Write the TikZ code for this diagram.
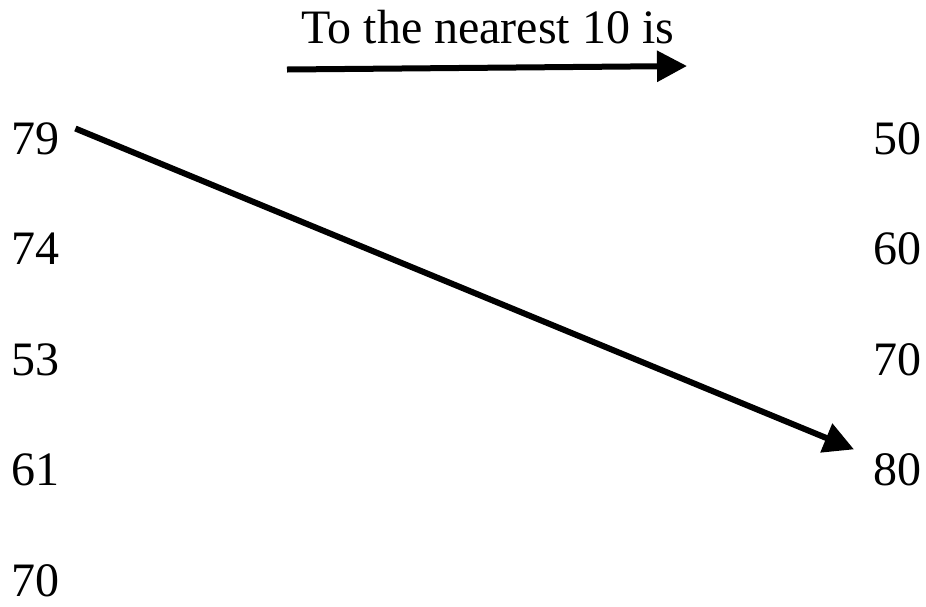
\documentclass[tikz,border=0pt]{standalone}
\usepackage{fontspec}
\setmainfont{Liberation Serif}
\usetikzlibrary{arrows.meta, positioning}

\begin{document}
\begin{tikzpicture}[
  x=1pt, y=-1pt,
  font=\fontsize{48}{58}\selectfont,
  numero/.style={anchor=base west, inner sep=0pt},
  freccia/.style={draw=black, line width=6pt, -{Triangle[length=30pt,width=30pt]}}
]
\useasboundingbox (0,0) rectangle (926,606);

% ---- titolo ----------------------------------------------------------
\node[anchor=base, inner sep=0pt] (titolo) at (488,43) {To the nearest 10 is};

% ---- numeri a sinistra -----------------------------------------------
\foreach \n/\y in {79/154, 74/264, 53/375, 61/485, 70/596} {
  \node[numero] (l\n) at (11,\y) {\n};
}

% ---- numeri a destra -------------------------------------------------
\foreach \n/\y in {50/154, 60/264, 70/375, 80/485} {
  \node[numero] (r\n) at (873,\y) {\n};
}

% ---- frecce ----------------------------------------------------------
\draw[freccia] ([shift={(-201,26.5)}]titolo.base) -- ([shift={(199,23)}]titolo.base);
\draw[freccia] ([shift={(16,6.5)}]l79.north east) -- ([shift={(-19,-3.5)}]r80.north west);

\end{tikzpicture}
\end{document}
